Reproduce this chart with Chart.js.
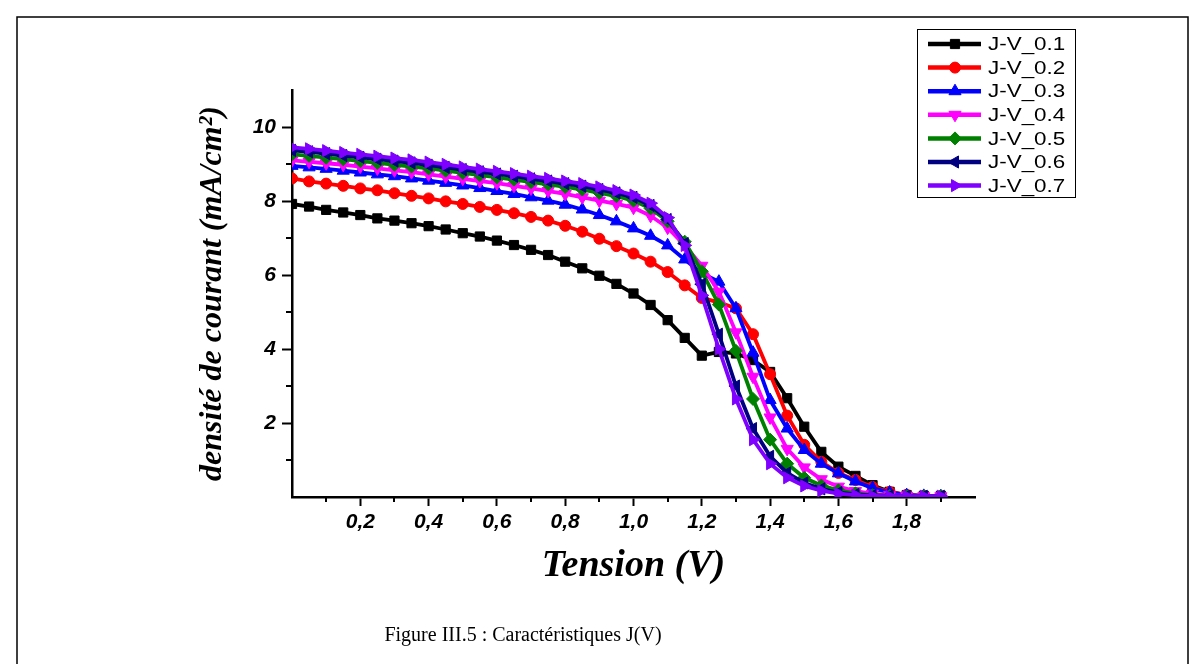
<!DOCTYPE html>
<html><head><meta charset="utf-8">
<script src="https://cdn.jsdelivr.net/npm/chart.js@4/dist/chart.umd.min.js"></script>
<style>html,body{margin:0;padding:0;background:#fff;overflow:hidden;} canvas{display:block;}</style>
</head><body>
<canvas id="c" width="1204" height="664"></canvas>
<script>
// ---- data ----
const voltage = [0, 0.05, 0.1, 0.15, 0.2, 0.25, 0.3, 0.35, 0.4, 0.45, 0.5, 0.55, 0.6, 0.65, 0.7, 0.75, 0.8, 0.85, 0.9, 0.95, 1.0,
  1.05, 1.1, 1.15, 1.2, 1.25, 1.3, 1.35, 1.4, 1.45, 1.5, 1.55, 1.6, 1.65, 1.7, 1.75, 1.8, 1.85, 1.9];
const jv01 = [7.92, 7.85, 7.76, 7.69, 7.62, 7.53, 7.47, 7.40, 7.32, 7.23, 7.13, 7.04, 6.93, 6.81, 6.68, 6.54, 6.36, 6.18, 5.98, 5.76, 5.50,
  5.19, 4.78, 4.30, 3.82, 3.92, 3.88, 3.70, 3.38, 2.67, 1.90, 1.22, 0.82, 0.57, 0.32, 0.14, 0.05, 0.03, 0.03];
const jv02 = [8.61, 8.53, 8.47, 8.41, 8.34, 8.29, 8.21, 8.14, 8.07, 7.99, 7.92, 7.84, 7.76, 7.67, 7.57, 7.47, 7.33, 7.17, 6.98, 6.78, 6.58,
  6.36, 6.08, 5.72, 5.38, 5.26, 5.10, 4.40, 3.32, 2.20, 1.41, 0.95, 0.65, 0.46, 0.27, 0.14, 0.06, 0.03, 0.02];
const jv03 = [8.95, 8.91, 8.87, 8.82, 8.77, 8.72, 8.67, 8.61, 8.55, 8.49, 8.42, 8.35, 8.27, 8.19, 8.10, 8.01, 7.90, 7.77, 7.62, 7.45, 7.26,
  7.06, 6.80, 6.42, 6.05, 5.82, 5.10, 3.90, 2.62, 1.85, 1.27, 0.90, 0.64, 0.42, 0.24, 0.12, 0.05, 0.03, 0.02];
const jv04 = [9.10, 9.06, 9.02, 8.98, 8.93, 8.88, 8.83, 8.78, 8.72, 8.66, 8.60, 8.54, 8.48, 8.41, 8.34, 8.27, 8.19, 8.10, 8.01, 7.92, 7.82,
  7.60, 7.28, 6.80, 6.25, 5.55, 4.45, 3.25, 2.15, 1.30, 0.80, 0.48, 0.28, 0.16, 0.09, 0.05, 0.03, 0.02, 0.02];
const jv05 = [9.26, 9.22, 9.17, 9.13, 9.08, 9.03, 8.98, 8.93, 8.88, 8.82, 8.76, 8.70, 8.64, 8.58, 8.51, 8.45, 8.38, 8.31, 8.22, 8.13, 8.01,
  7.80, 7.45, 6.90, 6.10, 5.20, 3.95, 2.65, 1.55, 0.90, 0.52, 0.31, 0.18, 0.10, 0.05, 0.03, 0.02, 0.02, 0.02];
const jv06 = [9.37, 9.33, 9.28, 9.23, 9.18, 9.13, 9.08, 9.03, 8.97, 8.91, 8.85, 8.79, 8.73, 8.67, 8.60, 8.54, 8.47, 8.40, 8.31, 8.22, 8.10,
  7.88, 7.50, 6.85, 5.75, 4.40, 3.00, 1.85, 1.10, 0.65, 0.38, 0.22, 0.12, 0.07, 0.04, 0.03, 0.02, 0.02, 0.02];
const jv07 = [9.45, 9.41, 9.36, 9.31, 9.26, 9.21, 9.16, 9.11, 9.05, 8.99, 8.92, 8.86, 8.80, 8.74, 8.67, 8.61, 8.54, 8.47, 8.38, 8.28, 8.16,
  7.94, 7.55, 6.80, 5.45, 4.00, 2.65, 1.55, 0.90, 0.52, 0.30, 0.17, 0.09, 0.05, 0.03, 0.02, 0.02, 0.02, 0.02];
const seriesNames = ['J-V_0.1', 'J-V_0.2', 'J-V_0.3', 'J-V_0.4', 'J-V_0.5', 'J-V_0.6', 'J-V_0.7'];
const xTickValues = [0.2, 0.4, 0.6, 0.8, 1.0, 1.2, 1.4, 1.6, 1.8];
const xTickLabels = ['0,2', '0,4', '0,6', '0,8', '1,0', '1,2', '1,4', '1,6', '1,8'];
const yTickValues = [2, 4, 6, 8, 10];
const yTickLabels = ['2', '4', '6', '8', '10'];
const xMinorTicks = [0.1, 0.3, 0.5, 0.7, 0.9, 1.1, 1.3, 1.5, 1.7, 1.9];
const yMinorTicks = [1, 3, 5, 7, 9];
const xTitle = 'Tension (V)';
const yTitle = 'densité de courant (mA/cm²)';
const caption = 'Figure III.5 : Caractéristiques J(V)';

// ---- styles ----
const seriesValues = [jv01, jv02, jv03, jv04, jv05, jv06, jv07];
const colors = ['#000000', '#ff0000', '#0000ff', '#ff00ff', '#008000', '#000080', '#8000ff'];
const pStyles = ['rect', 'circle', 'triangle', 'triangle', 'rectRot', 'triangle', 'triangle'];
const pRot = [0, 0, 0, 180, 0, 270, 90];
const pRad = [6.5, 5.5, 7, 7, 6.5, 7, 7];

const datasets = seriesValues.map((vals, i) => ({
  label: seriesNames[i],
  data: voltage.map((v, k) => ({x: v, y: vals[k]})),
  borderColor: colors[i],
  backgroundColor: colors[i],
  borderWidth: 3.8,
  pointStyle: pStyles[i],
  pointRotation: pRot[i],
  pointRadius: pRad[i],
  pointBorderWidth: 1,
  pointBackgroundColor: colors[i],
  pointBorderColor: colors[i],
  tension: 0,
  order: seriesValues.length - i
}));

function drawMarker(ctx, style, rot, r, x, y) {
  ctx.save();
  ctx.translate(x, y);
  ctx.rotate(rot * Math.PI / 180);
  ctx.beginPath();
  if (style === 'circle') {
    ctx.arc(0, 0, r, 0, Math.PI * 2);
  } else if (style === 'rect') {
    const s = r * Math.SQRT1_2;
    ctx.rect(-s, -s, 2 * s, 2 * s);
  } else if (style === 'rectRot') {
    ctx.moveTo(0, -r); ctx.lineTo(r, 0); ctx.lineTo(0, r); ctx.lineTo(-r, 0); ctx.closePath();
  } else if (style === 'triangle') {
    for (let k = 0; k < 3; k++) {
      const a = k * 2 * Math.PI / 3;
      const px = Math.sin(a) * r, py = -Math.cos(a) * r;
      if (k === 0) ctx.moveTo(px, py); else ctx.lineTo(px, py);
    }
    ctx.closePath();
  }
  ctx.fill();
  ctx.stroke();
  ctx.restore();
}

const decor = {
  id: 'decor',
  beforeDraw(chart) {
    const ctx = chart.ctx;
    ctx.save();
    ctx.fillStyle = '#fff';
    ctx.fillRect(0, 0, chart.width, chart.height);
    ctx.strokeStyle = '#000';
    ctx.lineWidth = 1.5;
    ctx.beginPath();
    ctx.moveTo(17, 664); ctx.lineTo(17, 17); ctx.lineTo(1188, 17); ctx.lineTo(1188, 664);
    ctx.stroke();
    ctx.restore();
  },
  afterDraw(chart) {
    const ctx = chart.ctx;
    const xs = chart.scales.x, ys = chart.scales.y;
    ctx.save();
    ctx.strokeStyle = '#000';
    ctx.lineWidth = 2;
    xMinorTicks.forEach(v => {
      const px = Math.round(xs.getPixelForValue(v));
      ctx.beginPath(); ctx.moveTo(px, xs.top); ctx.lineTo(px, xs.top + 5); ctx.stroke();
    });
    yMinorTicks.forEach(v => {
      const py = Math.round(ys.getPixelForValue(v));
      ctx.beginPath(); ctx.moveTo(ys.right, py); ctx.lineTo(ys.right - 6, py); ctx.stroke();
    });
    // legend
    ctx.lineWidth = 1;
    ctx.strokeRect(917.5, 29.5, 158, 168);
    chart.data.datasets.forEach((ds, i) => {
      const y = 44 + i * 23.6;
      ctx.strokeStyle = ds.borderColor;
      ctx.lineWidth = 4.5;
      ctx.beginPath(); ctx.moveTo(928, y); ctx.lineTo(981, y); ctx.stroke();
      ctx.fillStyle = ds.borderColor;
      ctx.lineWidth = 1;
      drawMarker(ctx, ds.pointStyle, ds.pointRotation, ds.pointRadius, 955, y);
      ctx.fillStyle = '#000';
      ctx.font = '19px "Liberation Sans", Arial, sans-serif';
      ctx.textBaseline = 'middle';
      ctx.textAlign = 'left';
      ctx.save();
      ctx.translate(988, y + 1);
      ctx.scale(1.18, 1);
      ctx.fillText(ds.label, 0, 0);
      ctx.restore();
    });
    // caption
    ctx.fillStyle = '#000';
    ctx.font = '20px "Liberation Serif", "Times New Roman", serif';
    ctx.textAlign = 'center';
    ctx.textBaseline = 'middle';
    ctx.fillText(caption, 523, 636);
    ctx.restore();
  }
};

const tickFont = {family: '"Liberation Sans", Arial, sans-serif', size: 21, weight: 'bold', style: 'italic'};
const titleFontFamily = '"Liberation Serif", "Times New Roman", serif';

new Chart(document.getElementById('c'), {
  type: 'line',
  data: {datasets},
  options: {
    responsive: false,
    animation: false,
    devicePixelRatio: 1,
    layout: {padding: {left: 190, top: 90, right: 229, bottom: 67}},
    plugins: {legend: {display: false}, tooltip: {enabled: false}, title: {display: false}},
    scales: {
      x: {
        type: 'linear',
        min: 0, max: 2.0,
        afterFit(s) { s.height = 100; },
        border: {display: true, color: '#000', width: 2.5},
        grid: {
          drawOnChartArea: false, drawTicks: true, tickLength: 9, tickWidth: 2,
          tickColor: (c) => (c.tick && (c.tick.value < 0.01 || c.tick.value > 1.99)) ? 'rgba(0,0,0,0)' : '#000'
        },
        ticks: {
          stepSize: 0.2, includeBounds: false, autoSkip: false, maxRotation: 0, padding: 4, color: '#000',
          font: tickFont,
          callback: (v) => { const i = xTickValues.findIndex(t => Math.abs(t - v) < 1e-6); return i >= 0 ? xTickLabels[i] : ''; }
        },
        title: {display: true, text: xTitle, color: '#000', padding: {top: 0, bottom: 8},
          font: {family: titleFontFamily, size: 38, weight: 'bold', style: 'italic'}}
      },
      y: {
        type: 'linear',
        min: 0, max: 11,
        afterFit(s) { s.width = 102; },
        border: {display: true, color: '#000', width: 2.5},
        grid: {
          drawOnChartArea: false, drawTicks: true, tickLength: 10, tickWidth: 2,
          tickColor: (c) => (c.tick && c.tick.value < 0.01) ? 'rgba(0,0,0,0)' : '#000'
        },
        ticks: {
          stepSize: 2, includeBounds: false, autoSkip: false, padding: 6, color: '#000',
          font: tickFont,
          callback: (v) => { const i = yTickValues.findIndex(t => Math.abs(t - v) < 1e-6); return i >= 0 ? yTickLabels[i] : ''; }
        },
        title: {display: true, text: yTitle, color: '#000', padding: {top: 4, bottom: 0},
          font: {family: titleFontFamily, size: 32, weight: 'bold', style: 'italic'}}
      }
    }
  },
  plugins: [decor]
});
</script>
</body></html>
